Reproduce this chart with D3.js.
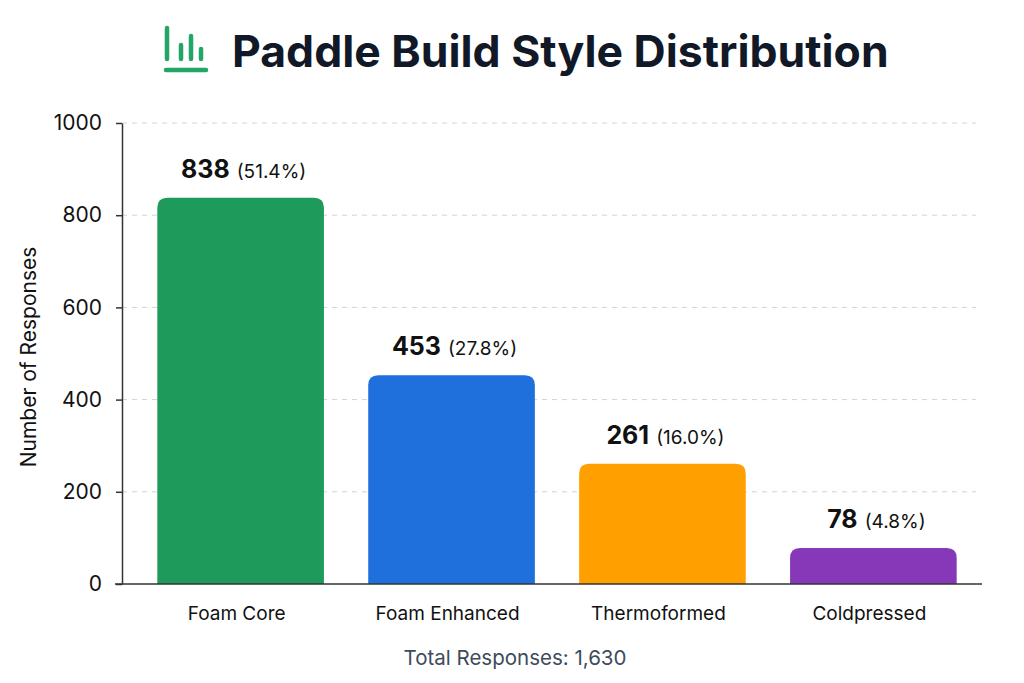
<!DOCTYPE html>
<html>
<head>
<meta charset="utf-8">
<script src="https://cdn.jsdelivr.net/npm/d3@7"></script>
<style>
  html, body { margin: 0; padding: 0; background: #fff; }
  svg { display: block; font-family: Inter, "Noto Sans", sans-serif; }
</style>
</head>
<body>
<svg id="chart" width="1024" height="683"></svg>
<script>
const categories = ["Foam Core", "Foam Enhanced", "Thermoformed", "Coldpressed"];
const responses = [838, 453, 261, 78];
const percents = ["51.4%", "27.8%", "16.0%", "4.8%"];
const barColors = ["#1e9a5a", "#1f6fdc", "#ffa000", "#8738b8"];
const yTicks = [0, 200, 400, 600, 800, 1000];
const totalResponses = "1,630";

const width = 1024, height = 683;
const margin = { top: 123, right: 42, bottom: 99, left: 132 };

const svg = d3.select("#chart");

const x = d3.scaleBand()
    .domain(categories)
    .range([margin.left, width - margin.right])
    .paddingInner(0.21)
    .paddingOuter(0.12);

const y = d3.scaleLinear()
    .domain([0, 1000])
    .range([height - margin.bottom, margin.top]);

// gridlines
svg.append("g")
    .selectAll("line")
    .data(yTicks.filter(d => d > 0))
    .join("line")
    .attr("x1", 122)
    .attr("x2", 976)
    .attr("y1", d => y(d))
    .attr("y2", d => y(d))
    .attr("stroke", "#cfd3d8")
    .attr("stroke-width", 1)
    .attr("stroke-dasharray", "5,5");

// bars with rounded top corners
const r = 10;
const barPath = d => {
    const x0 = x(d.cat), w = x.bandwidth();
    const y0 = y(d.value), y1 = y(0);
    return `M${x0},${y1}V${y0 + r}Q${x0},${y0} ${x0 + r},${y0}H${x0 + w - r}Q${x0 + w},${y0} ${x0 + w},${y0 + r}V${y1}Z`;
};
const data = categories.map((c, i) => ({ cat: c, value: responses[i], pct: percents[i], color: barColors[i] }));

svg.append("g")
    .selectAll("path")
    .data(data)
    .join("path")
    .attr("d", barPath)
    .attr("fill", d => d.color);

// value labels
const labels = svg.append("g")
    .selectAll("text")
    .data(data)
    .join("text")
    .attr("x", d => x(d.cat) + x.bandwidth() / 2 + 3)
    .attr("y", d => y(d.value) - 20)
    .attr("text-anchor", "middle")
    .attr("fill", "#111");
labels.append("tspan")
    .attr("font-size", 25)
    .attr("font-weight", 700)
    .text(d => d.value);
labels.append("tspan")
    .attr("font-size", 19)
    .attr("dx", 7)
    .text(d => `(${d.pct})`);

// y axis
const yAxis = svg.append("g")
    .attr("transform", "translate(122,0)")
    .call(d3.axisLeft(y).tickValues(yTicks).tickFormat(d3.format("d")).tickSize(6).tickPadding(14).tickSizeOuter(0));
yAxis.select(".domain").attr("stroke", "#333").attr("stroke-width", 1.5);
yAxis.selectAll(".tick line").attr("stroke", "#333").attr("stroke-width", 1.5);
yAxis.selectAll(".tick text")
    .attr("font-size", 21)
    .attr("fill", "#111")
    .attr("font-family", "Inter, sans-serif");

// x axis baseline and labels
svg.append("line")
    .attr("x1", 115).attr("x2", 982)
    .attr("y1", y(0)).attr("y2", y(0))
    .attr("stroke", "#333").attr("stroke-width", 1.5);

svg.append("g")
    .selectAll("text")
    .data(categories)
    .join("text")
    .attr("x", d => x(d) + x.bandwidth() / 2 - 4)
    .attr("y", 620)
    .attr("text-anchor", "middle")
    .attr("font-size", 19)
    .attr("fill", "#111")
    .text(d => d);

// y axis label
svg.append("text")
    .attr("transform", "rotate(-90)")
    .attr("x", -357)
    .attr("y", 36)
    .attr("text-anchor", "middle")
    .attr("font-size", 21)
    .attr("fill", "#111")
    .text("Number of Responses");

// footer
svg.append("text")
    .attr("x", 515)
    .attr("y", 665)
    .attr("text-anchor", "middle")
    .attr("font-size", 20.5)
    .attr("fill", "#3d4b5c")
    .text(`Total Responses: ${totalResponses}`);

// title with icon
const title = svg.append("g");
const icon = title.append("g")
    .attr("stroke", "#22a565")
    .attr("stroke-width", 4.5)
    .attr("stroke-linecap", "round");
[[167, 28], [181, 45], [191, 36], [201, 49]].forEach(([ix, iy]) => {
    icon.append("line").attr("x1", ix).attr("x2", ix).attr("y1", iy).attr("y2", 59);
});
icon.append("line").attr("x1", 166).attr("x2", 206).attr("y1", 70).attr("y2", 70);

title.append("text")
    .attr("x", 232)
    .attr("y", 67)
    .attr("font-size", 44.5)
    .attr("font-weight", 700)
    .attr("fill", "#111827")
    .text("Paddle Build Style Distribution");
</script>
</body>
</html>
